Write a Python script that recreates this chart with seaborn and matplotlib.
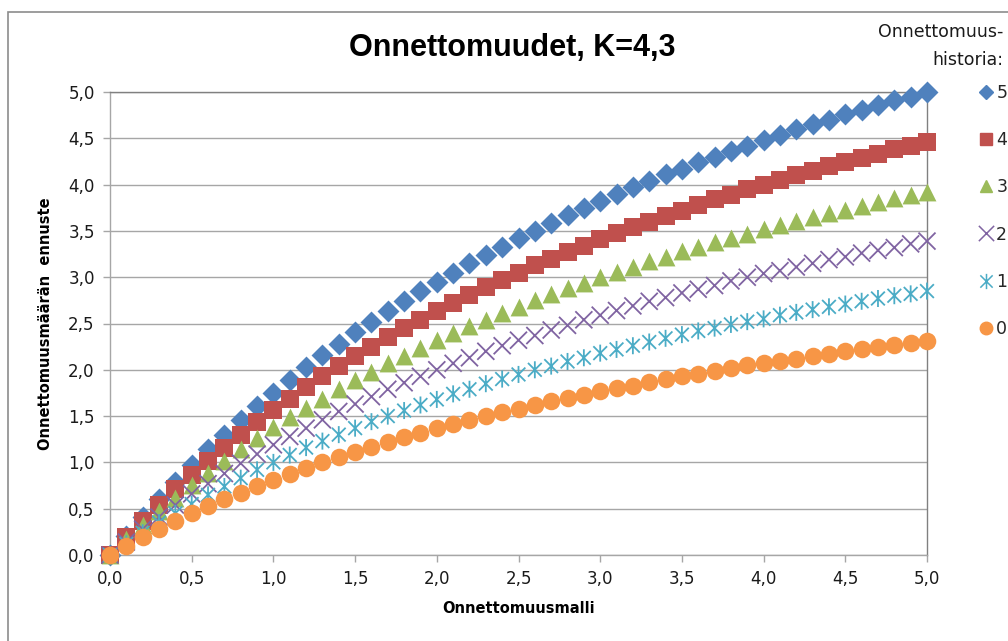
import matplotlib
matplotlib.use("Agg")
import matplotlib.pyplot as plt
import seaborn as sns
import numpy as np
import pandas as pd
from matplotlib.path import Path
from matplotlib.patches import Rectangle
from matplotlib.lines import Line2D

# Model prediction (x) and empirical-Bayes estimates for each accident history
malli = [0.0, 0.1, 0.2, 0.3, 0.4, 0.5, 0.6, 0.7, 0.8, 0.9,
         1.0, 1.1, 1.2, 1.3, 1.4, 1.5, 1.6, 1.7, 1.8, 1.9,
         2.0, 2.1, 2.2, 2.3, 2.4, 2.5, 2.6, 2.7, 2.8, 2.9,
         3.0, 3.1, 3.2, 3.3, 3.4, 3.5, 3.6, 3.7, 3.8, 3.9,
         4.0, 4.1, 4.2, 4.3, 4.4, 4.5, 4.6, 4.7, 4.8, 4.9, 5.0]

historia_5 = [0.00, 0.21, 0.41, 0.61, 0.79, 0.97, 1.14, 1.30, 1.46, 1.61,
              1.75, 1.89, 2.03, 2.16, 2.28, 2.41, 2.52, 2.64, 2.74, 2.85,
              2.95, 3.05, 3.15, 3.24, 3.33, 3.42, 3.50, 3.59, 3.67, 3.75,
              3.82, 3.90, 3.97, 4.04, 4.11, 4.17, 4.24, 4.30, 4.36, 4.42,
              4.48, 4.54, 4.60, 4.65, 4.70, 4.76, 4.81, 4.86, 4.91, 4.95, 5.00]
historia_4 = [0.00, 0.19, 0.37, 0.54, 0.71, 0.86, 1.02, 1.16, 1.30, 1.44,
              1.57, 1.69, 1.81, 1.93, 2.04, 2.15, 2.25, 2.35, 2.45, 2.54,
              2.63, 2.72, 2.81, 2.89, 2.97, 3.05, 3.13, 3.20, 3.27, 3.34,
              3.41, 3.48, 3.54, 3.60, 3.66, 3.72, 3.78, 3.84, 3.89, 3.95,
              4.00, 4.05, 4.10, 4.15, 4.20, 4.24, 4.29, 4.33, 4.38, 4.42, 4.46]
historia_3 = [0.00, 0.17, 0.32, 0.48, 0.62, 0.76, 0.89, 1.02, 1.15, 1.26,
              1.38, 1.49, 1.59, 1.69, 1.79, 1.89, 1.98, 2.07, 2.15, 2.24,
              2.32, 2.40, 2.47, 2.54, 2.61, 2.68, 2.75, 2.82, 2.88, 2.94,
              3.00, 3.06, 3.11, 3.17, 3.22, 3.28, 3.33, 3.38, 3.42, 3.47,
              3.52, 3.56, 3.61, 3.65, 3.69, 3.73, 3.77, 3.81, 3.85, 3.89, 3.92]
historia_2 = [0.00, 0.14, 0.28, 0.41, 0.54, 0.66, 0.77, 0.88, 0.99, 1.09,
              1.19, 1.28, 1.37, 1.46, 1.55, 1.63, 1.71, 1.79, 1.86, 1.93,
              2.00, 2.07, 2.13, 2.20, 2.26, 2.32, 2.37, 2.43, 2.48, 2.54,
              2.59, 2.64, 2.69, 2.74, 2.78, 2.83, 2.87, 2.91, 2.96, 3.00,
              3.04, 3.07, 3.11, 3.15, 3.19, 3.22, 3.26, 3.29, 3.32, 3.36, 3.39]
historia_1 = [0.00, 0.12, 0.24, 0.35, 0.45, 0.55, 0.65, 0.74, 0.83, 0.92,
              1.00, 1.08, 1.16, 1.23, 1.30, 1.37, 1.44, 1.50, 1.56, 1.62,
              1.68, 1.74, 1.79, 1.85, 1.90, 1.95, 2.00, 2.04, 2.09, 2.13,
              2.18, 2.22, 2.26, 2.30, 2.34, 2.38, 2.42, 2.45, 2.49, 2.52,
              2.55, 2.59, 2.62, 2.65, 2.68, 2.71, 2.74, 2.77, 2.80, 2.82, 2.85]
historia_0 = [0.00, 0.10, 0.19, 0.28, 0.37, 0.45, 0.53, 0.60, 0.67, 0.74,
              0.81, 0.88, 0.94, 1.00, 1.06, 1.11, 1.17, 1.22, 1.27, 1.32,
              1.37, 1.41, 1.46, 1.50, 1.54, 1.58, 1.62, 1.66, 1.70, 1.73,
              1.77, 1.80, 1.83, 1.87, 1.90, 1.93, 1.96, 1.99, 2.02, 2.05,
              2.07, 2.10, 2.12, 2.15, 2.17, 2.20, 2.22, 2.25, 2.27, 2.29, 2.31]

sarjat = ["5", "4", "3", "2", "1", "0"]
arvot = [historia_5, historia_4, historia_3, historia_2, historia_1, historia_0]
tick_values = [0.0, 0.5, 1.0, 1.5, 2.0, 2.5, 3.0, 3.5, 4.0, 4.5, 5.0]
tick_labels = ["0,0", "0,5", "1,0", "1,5", "2,0", "2,5", "3,0", "3,5", "4,0", "4,5", "5,0"]

# Line-art markers: a plain cross and an asterisk (cross with a vertical stroke)
d = 0.5
cross = Path(
    [(-d, -d), (d, d), (-d, d), (d, -d)],
    [Path.MOVETO, Path.LINETO, Path.MOVETO, Path.LINETO],
)
asterisk = Path(
    [(-d, -d), (d, d), (-d, d), (d, -d), (0, -0.62), (0, 0.62)],
    [Path.MOVETO, Path.LINETO, Path.MOVETO, Path.LINETO, Path.MOVETO, Path.LINETO],
)

styles = {
    "5": dict(marker="D", color="#4F81BD", s=125, filled=True),
    "4": dict(marker="s", color="#C0504D", s=150, filled=True),
    "3": dict(marker="^", color="#9BBB59", s=165, filled=True),
    "2": dict(marker=cross, color="#8064A2", s=150, filled=False),
    "1": dict(marker=asterisk, color="#4BACC6", s=150, filled=False),
    "0": dict(marker="o", color="#F79646", s=160, filled=True),
}

sns.set_theme(style="white")
plt.rcParams["font.family"] = ["DejaVu Sans"]

fig = plt.figure(figsize=(10.08, 6.41), dpi=100)
ax = fig.add_axes([110 / 1008, 1 - 555 / 641, 817 / 1008, 463 / 641])

for name, ys in zip(sarjat, arvot):
    st = styles[name]
    df = pd.DataFrame({"malli": malli, "ennuste": ys})
    if st["filled"]:
        sns.scatterplot(data=df, x="malli", y="ennuste", ax=ax, marker=st["marker"],
                        color=st["color"], s=st["s"], linewidth=0, clip_on=False, zorder=3)
    else:
        sns.scatterplot(data=df, x="malli", y="ennuste", ax=ax, marker=st["marker"],
                        color=st["color"], edgecolor=st["color"], facecolor="none",
                        s=st["s"], linewidth=1.3, clip_on=False, zorder=3)

ax.set_xlim(0, 5)
ax.set_ylim(0, 5)
ax.set_xticks(tick_values)
ax.set_xticklabels(tick_labels)
ax.set_yticks(tick_values)
ax.set_yticklabels(tick_labels)
ax.yaxis.grid(True, color="#A6A6A6", linewidth=1.0)
ax.xaxis.grid(False)
ax.set_axisbelow(True)
ax.tick_params(axis="both", which="major", direction="out", length=5, width=1,
               color="#A6A6A6", labelsize=12, labelcolor="#1a1a1a", pad=6, bottom=True, left=True)
for side in ["left", "bottom"]:
    ax.spines[side].set_color("#A6A6A6")
    ax.spines[side].set_linewidth(1.0)
for side in ["top", "right"]:
    ax.spines[side].set_visible(True)
    ax.spines[side].set_color("#808080")
    ax.spines[side].set_linewidth(1.0)

ax.set_xlabel("Onnettomuusmalli", fontsize=10.5, fontweight="bold", labelpad=9, color="black")
ax.set_ylabel("Onnettomuusmäärän  ennuste", fontsize=10.5, fontweight="bold", labelpad=11,
              color="black")

fig.text(512 / 1008, 1 - 48 / 641, "Onnettomuudet, K=4,3", ha="center", va="center",
         fontsize=22, fontweight="bold", color="black",
         family=["Liberation Sans", "DejaVu Sans"])

# Outer chart frame
fig.patches.append(Rectangle((8 / 1008, -0.1), 1.2, 1 - 12 / 641 + 0.1, transform=fig.transFigure,
                             fill=False, edgecolor="#8C8C8C", linewidth=1.2))

# Legend
fig.text(1003 / 1008, 1 - 32 / 641, "Onnettomuus-", ha="right", va="center", fontsize=12.5,
         color="#1a1a1a")
fig.text(1003 / 1008, 1 - 60 / 641, "historia:", ha="right", va="center", fontsize=12.5,
         color="#1a1a1a")
handles = []
for name in sarjat:
    st = styles[name]
    if st["filled"]:
        h = Line2D([], [], linestyle="none", marker=st["marker"], markerfacecolor=st["color"],
                   markeredgecolor=st["color"], markersize=9 if name != "5" else 7.5)
    else:
        h = Line2D([], [], linestyle="none", marker=st["marker"], markerfacecolor="none",
                   markeredgecolor=st["color"], color=st["color"],
                   markersize=11, markeredgewidth=1.1)
    handles.append(h)
fig.legend(handles, sarjat, loc="upper left", bbox_to_anchor=(978 / 1008, 1 - 84 / 641),
           frameon=False, fontsize=12.5, labelspacing=1.68, handlelength=0.9,
           handletextpad=0.15, borderpad=0, borderaxespad=0)

fig.savefig("out.png", dpi=100, facecolor="white")
